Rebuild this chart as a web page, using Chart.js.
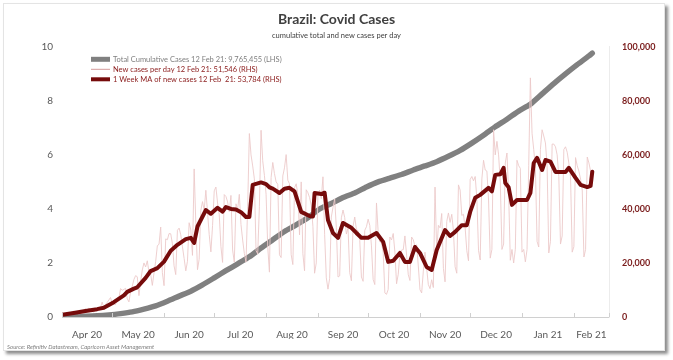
<!DOCTYPE html>
<html>
<head>
<meta charset="utf-8">
<script src="https://cdn.jsdelivr.net/npm/chart.js@4.4.0/dist/chart.umd.min.js"></script>
<style>
  html, body { margin: 0; padding: 0; background: #ffffff; width: 673px; height: 360px; overflow: hidden; }
  #frame { position: absolute; left: 3px; top: 3px; width: 660px; height: 346px; border: 1px solid #e4e4e4; box-shadow: 3px 3px 3px rgba(0,0,0,0.45); background: #fff; }
  #chart { position: absolute; left: 0; top: 0; }
  #source { position: absolute; left: 7px; top: 343px; font-family: Lato, sans-serif; font-style: italic; font-size: 6px; color: #7f7f7f; white-space: nowrap; }
</style>
</head>
<body>
<div id="frame"></div>
<canvas id="chart" width="673" height="360"></canvas>
<div id="source">Source: Refinitiv Datastream, Capricorn Asset Management</div>
<script>
// ---- DATA (day index = days since 1 Apr 2020) ----
const monthLabels = ['Apr 20','May 20','Jun 20','Jul 20','Aug 20','Sep 20','Oct 20','Nov 20','Dec 20','Jan 21','Feb 21'];
const monthStartDays = [0, 30, 61, 91, 122, 153, 183, 214, 244, 275, 306, 327];

// Daily new cases, 1 Apr 2020 .. 12 Feb 2021 (RHS)
const newCases = [
  1100, 1100, 1100, 1200, 900, 900, 1700,
  2200, 1900, 1800, 1100, 1400, 1300, 1800,
  3100, 2100, 3300, 2900, 2100, 1900, 2500,
  2700, 3700, 3500, 5500, 3400, 4600, 5400,
  6300, 7200, 5000, 5000, 4600, 6600, 6900,
  10500, 9900, 10200, 10600, 6800, 5600, 9300,
  11400, 13900, 15300, 14900, 7900, 13100, 17400,
  20000, 18500, 20800, 16500, 15800, 11700, 16300,
  20600, 26400, 26900, 33300, 16400, 11600, 28900,
  28600, 30900, 30800, 27100, 18900, 15700, 32100,
  32900, 30400, 26000, 21700, 17100, 20600, 34900,
  32200, 22800, 54800, 34700, 17500, 21400, 39400,
  42700, 39500, 46900, 38700, 30500, 24100, 33800,
  46700, 48100, 42200, 37900, 26100, 20200, 45300,
  44600, 42600, 39000, 45000, 24800, 20300, 41900,
  39900, 45400, 34200, 28500, 23500, 20300, 41000,
  67900, 60000, 55900, 51100, 24600, 23300, 40800,
  69100, 57800, 52400, 45400, 25800, 16600, 51600,
  57200, 53100, 50000, 49100, 23000, 22000, 52200,
  55200, 60100, 50600, 49300, 23100, 19400, 47800,
  49300, 45300, 30400, 50000, 23400, 17100, 47100,
  46000, 44200, 41400, 33500, 16200, 20000, 45000,
  46900, 43800, 51900, 30600, 14500, 10300, 14300,
  37000, 40600, 43700, 33100, 14800, 15200, 36700,
  39600, 36800, 30700, 33000, 16400, 13400, 33500,
  37000, 32400, 31900, 28400, 14800, 13200, 32100,
  33400, 36200, 33900, 26300, 13900, 12000, 42200,
  31600, 27800, 27400, 24000, 8900, 8400, 10200,
  29600, 28500, 30900, 24100, 12300, 15800, 23200,
  24800, 24900, 30000, 22900, 15700, 13500, 29600,
  28600, 26100, 26700, 18900, 10100, 8900, 17000,
  24000, 18000, 12000, 10500, 13800, 10900, 48100,
  24000, 33900, 33000, 38300, 18000, 13000, 35300,
  38500, 35000, 38000, 32000, 18600, 16200, 48900,
  47000, 37600, 38000, 33000, 24500, 20800, 50900,
  52000, 50400, 52000, 44000, 24600, 21100, 51100,
  58000, 54400, 54000, 43300, 21800, 25000, 69300,
  60000, 65000, 60000, 50000, 25000, 27000, 57000,
  60700, 46000, 21000, 25000, 20000, 25000, 58000,
  56000, 55000, 24000, 25000, 20400, 25000, 56000,
  88500, 68000, 62000, 55000, 28000, 25900, 62000,
  69300, 67000, 64400, 56000, 23700, 28000, 64000,
  64000, 63000, 60000, 52000, 27000, 30000, 62000,
  63000, 61000, 57000, 52000, 24000, 26000, 59000,
  56000, 54000, 51000, 47000, 22200, 25000, 59200,
  57000, 54000, 51546
];

// 1 week moving average of new cases (RHS)
const maDays = [0, 7, 14, 21, 25, 31, 37, 39, 43, 45, 50, 53, 57, 61, 65, 69, 74, 77, 79, 81,
  86, 89, 93, 96, 98, 101, 104, 107, 110, 112, 114, 119, 122, 124, 126, 130, 133, 136, 139, 143,
  148, 150, 151, 155, 157, 159, 162, 165, 168, 173, 176, 179, 183, 188, 192, 195, 198, 202, 205, 208,
  211, 214, 218, 221, 224, 229, 232, 235, 239, 242, 244, 247, 250, 255, 257, 259, 262, 264, 265, 267,
  269, 272, 278, 280, 282, 284, 287, 289, 292, 295, 301, 303, 307, 310, 314, 316, 317];
const maValues = [800, 1500, 2200, 2900, 3400, 5500, 8000, 9300, 10500, 11000, 14500, 17000, 18100, 20500, 24500, 26700, 28800, 29300, 27400, 33500,
  39600, 38200, 40400, 39000, 40700, 40000, 39800, 38800, 37000, 37000, 48900, 49800, 49200, 48000, 47500, 45900, 47500, 47800, 46500, 38900,
  37400, 37200, 45900, 45500, 46000, 35900, 31100, 29300, 34800, 33000, 31100, 29300, 29300, 31100, 27800, 20400, 20800, 23700, 20400, 20400,
  25900, 23700, 18500, 17400, 24800, 32200, 30000, 31500, 34000, 34000, 38900, 44100, 45200, 47800, 46500, 52600, 52800, 55200, 49600, 48000,
  41500, 43300, 43300, 45900, 57000, 58900, 54400, 58100, 57500, 53700, 53700, 55200, 51500, 48900, 48100, 48500, 53784];

// Total cumulative cases (LHS), weekly (Wednesdays) plus 12 Feb 2021
const cumDays = [0, 7, 14, 21, 28, 35, 42, 49, 56, 63, 70, 77, 84, 91, 98, 105, 112, 119, 126, 133,
  140, 147, 154, 161, 168, 175, 182, 189, 196, 203, 210, 217, 224, 231, 238, 245, 252, 259, 266, 273,
  280, 287, 294, 301, 308, 315, 317];
const cumValues = [6836, 15927, 28320, 45757, 78162, 125218, 188974, 291579, 411821, 584016,
  772416, 955377, 1188631, 1448753, 1713160, 1966748, 2227514, 2552265, 2859073, 3164785,
  3407354, 3669995, 3997865, 4197889, 4419083, 4591364, 4810935, 5000694, 5140863, 5273954,
  5439641, 5590025, 5747660, 5945849, 6166606, 6436650, 6728452, 7040608, 7318821, 7619200,
  7873830, 8256536, 8638249, 8996876, 9339420, 9662305, 9765455];

const legendTexts = [
  'Total Cumulative Cases 12 Feb 21: 9,765,455 (LHS)',
  'New cases per day 12 Feb 21: 51,546 (RHS)',
  '1 Week MA of new cases 12 Feb  21: 53,784 (RHS)'
];

// ---- CHART ----
const GRAY = '#808080', PINK = '#ecc9c9', MAROON = '#760b0b';
const labelDays = monthLabels.map((_, i) => (monthStartDays[i] + monthStartDays[i + 1]) / 2);

const tickMarks = {
  id: 'tickMarks',
  afterDraw(chart) {
    const ctx = chart.ctx, xs = chart.scales.x, b = chart.chartArea.bottom;
    ctx.save();
    ctx.strokeStyle = '#d0d0d0';
    ctx.lineWidth = 1;
    monthStartDays.forEach(d => {
      const x = Math.round(xs.getPixelForValue(d)) + 0.5;
      ctx.beginPath(); ctx.moveTo(x, b - 4); ctx.lineTo(x, b); ctx.stroke();
    });
    ctx.restore();
  }
};

const customLegend = {
  id: 'customLegend',
  afterDraw(chart) {
    const ctx = chart.ctx, ca = chart.chartArea;
    const x0 = ca.left + 29, y0 = ca.top + 12.5, dy = 10;
    const styles = [
      { color: GRAY, width: 5, text: '#7f7f7f' },
      { color: '#d49a9a', width: 1, text: '#8a1a1a' },
      { color: MAROON, width: 4, text: '#8a1a1a' }
    ];
    ctx.save();
    ctx.font = '7.5px Lato';
    ctx.textBaseline = 'middle';
    styles.forEach((s, i) => {
      const y = y0 + i * dy;
      ctx.strokeStyle = s.color; ctx.lineWidth = s.width;
      ctx.beginPath(); ctx.moveTo(x0, y); ctx.lineTo(x0 + 19, y); ctx.stroke();
      ctx.fillStyle = s.text;
      ctx.fillText(legendTexts[i], x0 + 22, y + 0.5);
    });
    ctx.restore();
  }
};

new Chart(document.getElementById('chart'), {
  type: 'line',
  data: {
    datasets: [
      {
        label: legendTexts[2], yAxisID: 'yR', order: 0,
        data: maDays.map((d, i) => ({ x: d, y: maValues[i] })),
        borderColor: MAROON, borderWidth: 4, pointRadius: 0, tension: 0, borderJoinStyle: 'round', borderCapStyle: 'round'
      },
      {
        label: legendTexts[1], yAxisID: 'yR', order: 1,
        data: newCases.map((v, i) => ({ x: i, y: v })),
        borderColor: PINK, borderWidth: 0.9, pointRadius: 0, tension: 0
      },
      {
        label: legendTexts[0], yAxisID: 'yL', order: 2,
        data: cumDays.map((d, i) => ({ x: d, y: cumValues[i] })),
        borderColor: GRAY, borderWidth: 5.5, pointRadius: 0, tension: 0.2, borderJoinStyle: 'round', borderCapStyle: 'round'
      }
    ]
  },
  options: {
    responsive: false,
    animation: false,
    events: [],
    layout: { padding: { top: 5, bottom: 21, left: 0, right: 0 } },
    plugins: {
      legend: { display: false },
      tooltip: { enabled: false },
      title: {
        display: true, text: 'Brazil: Covid Cases', color: '#404040',
        font: { family: 'Lato', size: 14, weight: 'bold' }, padding: { top: 6, bottom: 3 }
      },
      subtitle: {
        display: true, text: 'cumulative total and new cases per day', color: '#404040',
        font: { family: 'Lato', size: 7.5 }, padding: { top: 0, bottom: 7 }
      }
    },
    scales: {
      x: {
        type: 'linear', min: 0, max: 327,
        afterBuildTicks: s => { s.ticks = labelDays.map(v => ({ value: v })); },
        ticks: {
          autoSkip: false, maxRotation: 0, padding: 12,
          callback: (v, i) => monthLabels[i],
          font: { family: 'Lato', size: 10 }, color: '#595959'
        },
        grid: { display: false, drawTicks: false, tickLength: 0 },
        border: { display: true, color: '#d0d0d0', width: 1 },
        afterFit: s => { s.height = 22; }
      },
      yL: {
        position: 'left', min: 0, max: 10000000,
        ticks: {
          stepSize: 2000000, padding: 9,
          callback: v => String(v / 1000000),
          font: { family: 'Lato', size: 10 }, color: '#595959'
        },
        grid: { display: false, drawTicks: false, tickLength: 0 },
        border: { display: false },
        afterFit: s => { s.width = 62; }
      },
      yR: {
        position: 'right', min: 0, max: 100000,
        ticks: {
          stepSize: 20000, padding: 13,
          callback: v => v.toLocaleString('en-US'),
          font: { family: 'Lato', size: 9, weight: 'bold' }, color: '#7a1c1c'
        },
        grid: { display: false, drawTicks: false, tickLength: 0 },
        border: { display: true, color: '#ececec', width: 1 },
        afterFit: s => { s.width = 64; }
      }
    }
  },
  plugins: [tickMarks, customLegend]
});
</script>
</body>
</html>
